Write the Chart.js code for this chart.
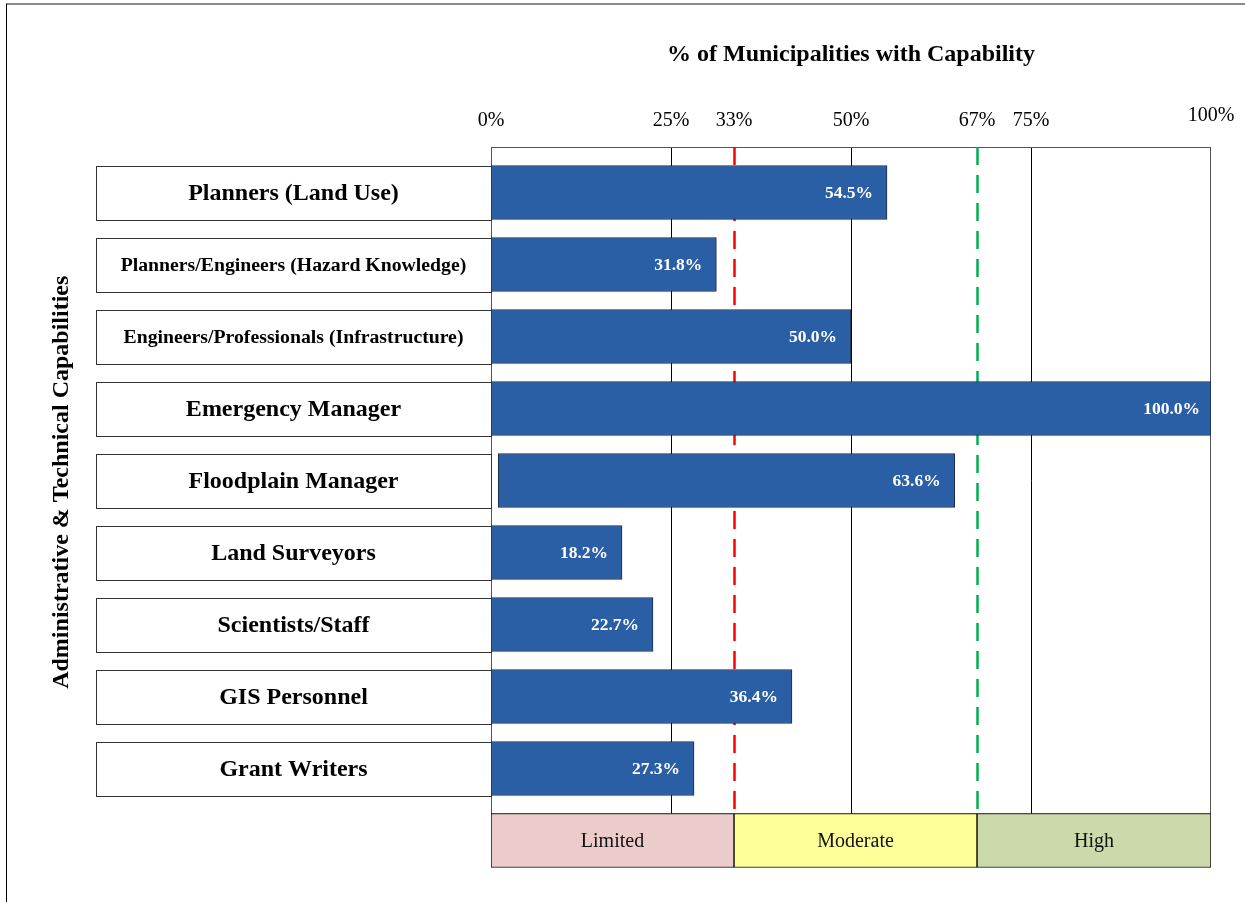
<!DOCTYPE html>
<html>
<head>
<meta charset="utf-8">
<script src="https://cdn.jsdelivr.net/npm/chart.js@4.4.1/dist/chart.umd.min.js"></script>
<style>
  html, body { margin: 0; padding: 0; background: #fff; }
  #wrap { position: relative; width: 1245px; height: 902px; overflow: hidden; }
  #frame { position: absolute; left: 6px; top: 3px; right: 0; bottom: 0;
           border-top: 2px solid #8a8a8a; border-left: 1px solid #000; pointer-events: none; }
  canvas { position: absolute; left: 0; top: 0; }
</style>
</head>
<body>
<div id="wrap">
  <canvas id="capChart" width="1245" height="902"></canvas>
  <div id="frame"></div>
</div>
<script>
// Chart data
const categories = [
    'Planners (Land Use)',
    'Planners/Engineers (Hazard Knowledge)',
    'Engineers/Professionals (Infrastructure)',
    'Emergency Manager',
    'Floodplain Manager',
    'Land Surveyors',
    'Scientists/Staff',
    'GIS Personnel',
    'Grant Writers'
];
// printed values
const shares = [54.5, 31.8, 50.0, 100.0, 63.6, 18.2, 22.7, 36.4, 27.3];
// bar extents as drawn in the original (not always equal to the printed value)
const barStarts = [0, 0, 0, 0, 1, 0, 0, 0, 0];
const barEnds = [55.0, 31.3, 50.0, 100.0, 64.4, 18.2, 22.5, 41.8, 28.2];
const tickValues = [0, 25, 33.75, 50, 67.5, 75, 100];
const tickLabels = ['0%', '25%', '33%', '50%', '67%', '75%', '100%'];
const thresholds = [33.75, 67.5];
const zoneNames = ['Limited', 'Moderate', 'High'];
const zoneBounds = [0, 33.75, 67.5, 100];
const zoneColors = ['#ECCCCB', '#FFFF99', '#CCDAAB'];

const FONT = "'Liberation Serif', 'Times New Roman', serif";
const BAR_H = 54;
const rowLabels = categories.concat(['zones']);
const zoneRow = categories.length;

const barData = categories.map((c, i) => [barStarts[i], barEnds[i]]);
barData.push(null);

const zoneSets = zoneNames.map((name, k) => {
    const data = rowLabels.map(() => null);
    data[zoneRow] = [zoneBounds[k], zoneBounds[k + 1]];
    return {
        label: name,
        data: data,
        backgroundColor: zoneColors[k],
        borderColor: '#000',
        borderWidth: 1,
        borderSkipped: false,
        barThickness: BAR_H,
        grouped: false
    };
});

// frame, gridlines, threshold lines and label boxes
const backdropPlugin = {
    id: 'backdrop',
    beforeDatasetsDraw(chart) {
        const ctx = chart.ctx;
        const x = chart.scales.x;
        const y = chart.scales.y;
        const left = x.getPixelForValue(0);
        const right = x.getPixelForValue(100);
        const top = chart.chartArea.top - 9.5;
        const zoneTop = y.getPixelForValue(zoneRow) - BAR_H / 2;

        ctx.save();
        ctx.strokeStyle = '#000';
        ctx.lineWidth = 1;
        [25, 50, 75].forEach(v => {
            const px = Math.round(x.getPixelForValue(v)) + 0.5;
            ctx.beginPath();
            ctx.moveTo(px, top);
            ctx.lineTo(px, zoneTop);
            ctx.stroke();
        });
        ctx.strokeStyle = '#555';
        ctx.strokeRect(left + 0.5, Math.round(top) + 0.5, right - left - 1, zoneTop - top);

        ctx.lineWidth = 2.5;
        ctx.setLineDash([18, 10]);
        const dashColors = ['#FF0000', '#00B050'];
        thresholds.forEach((v, k) => {
            const px = Math.round(x.getPixelForValue(v)) + 0.5;
            ctx.strokeStyle = dashColors[k];
            ctx.beginPath();
            ctx.moveTo(px, top);
            ctx.lineTo(px, zoneTop);
            ctx.stroke();
        });
        ctx.setLineDash([]);

        // category boxes left of the axis; long names share one smaller size
        const boxLeft = 96;
        const room = left - boxLeft - 46;
        const bigSize = 24;
        let smallSize = bigSize;
        categories.forEach(name => {
            ctx.font = 'bold ' + smallSize + 'px ' + FONT;
            while (ctx.measureText(name).width > room && smallSize > 10) {
                smallSize -= 0.25;
                ctx.font = 'bold ' + smallSize + 'px ' + FONT;
            }
        });
        categories.forEach((name, i) => {
            const cy = y.getPixelForValue(i);
            const bt = Math.round(cy - BAR_H / 2) + 0.5;
            ctx.fillStyle = '#fff';
            ctx.fillRect(boxLeft, bt, left - boxLeft, BAR_H);
            ctx.strokeStyle = '#333';
            ctx.lineWidth = 1;
            ctx.strokeRect(boxLeft + 0.5, bt, left - boxLeft, BAR_H);

            ctx.font = 'bold ' + bigSize + 'px ' + FONT;
            if (ctx.measureText(name).width > room) {
                ctx.font = 'bold ' + smallSize + 'px ' + FONT;
            }
            ctx.fillStyle = '#000';
            ctx.textAlign = 'center';
            ctx.textBaseline = 'middle';
            ctx.fillText(name, (boxLeft + left) / 2, cy + 1);
        });

        // vertical axis title
        const midY = (top + zoneTop) / 2;
        ctx.translate(62, midY + 2);
        ctx.rotate(-Math.PI / 2);
        ctx.font = 'bold 24px ' + FONT;
        ctx.fillText('Administrative & Technical Capabilities', 0, 0);
        ctx.restore();
    },
    afterDatasetsDraw(chart) {
        const ctx = chart.ctx;
        ctx.save();
        ctx.textBaseline = 'middle';

        // value labels at the end of each bar
        const meta = chart.getDatasetMeta(0);
        ctx.font = 'bold 17.5px ' + FONT;
        ctx.fillStyle = '#fff';
        ctx.textAlign = 'right';
        shares.forEach((v, i) => {
            const el = meta.data[i];
            const pad = v >= 100 ? 11 : 14;
            ctx.fillText(v.toFixed(1) + '%', el.x - pad, el.y + 1);
        });

        // zone names
        ctx.font = '20px ' + FONT;
        ctx.fillStyle = '#111';
        ctx.textAlign = 'center';
        zoneNames.forEach((name, k) => {
            const el = chart.getDatasetMeta(k + 1).data[zoneRow];
            ctx.fillText(name, (el.x + el.base) / 2, el.y + 1);
        });
        ctx.restore();
    }
};

new Chart(document.getElementById('capChart'), {
    type: 'bar',
    data: {
        labels: rowLabels,
        datasets: [
            {
                label: 'Capability',
                data: barData,
                backgroundColor: '#2A5EA5',
                borderColor: '#1C2B45',
                borderWidth: 1,
                borderSkipped: false,
                barThickness: BAR_H,
                grouped: false
            }
        ].concat(zoneSets)
    },
    options: {
        indexAxis: 'y',
        responsive: false,
        animation: false,
        layout: { padding: { left: 491, right: 34, top: 0, bottom: 25.5 } },
        plugins: {
            legend: { display: false },
            tooltip: { enabled: false }
        },
        scales: {
            x: {
                position: 'top',
                min: 0,
                max: 100,
                afterBuildTicks: scale => {
                    scale.ticks = tickValues.map(v => ({ value: v }));
                },
                afterFit: scale => {
                    scale.height = 156.5;
                    scale.paddingLeft = 0;
                    scale.paddingRight = 0;
                },
                ticks: {
                    autoSkip: false,
                    maxRotation: 0,
                    padding: 24,
                    color: '#000',
                    // the 100% label sits a little higher in the original
                    font: c => ({ family: FONT, size: 20, lineHeight: c.index === tickValues.length - 1 ? 1.7 : 1.2 }),
                    callback: (value, index) => tickLabels[index]
                },
                grid: { display: false, drawTicks: false },
                border: { display: false },
                title: {
                    display: true,
                    text: '% of Municipalities with Capability',
                    color: '#000',
                    font: { family: FONT, size: 24, weight: 'bold' },
                    padding: { top: 40, bottom: 0 }
                }
            },
            y: {
                display: false,
                offset: true
            }
        }
    },
    plugins: [backdropPlugin]
});
</script>
</body>
</html>
